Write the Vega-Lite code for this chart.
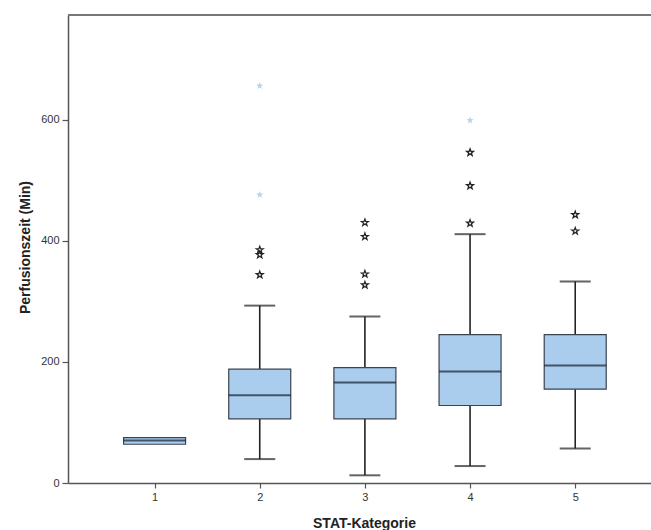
{
  "$schema": "https://vega.github.io/schema/vega-lite/v6.json",
  "width": 583,
  "height": 468,
  "autosize": {"type": "none"},
  "padding": {"left": 68, "top": 15, "right": 0, "bottom": 47},
  "background": "white",
  "config": {"view": {"stroke": null}, "font": "Liberation Sans"},
  "datasets": {
    "boxes": [
      {"cat": 1, "lo": 64, "q1": 64, "med": 70, "q3": 75, "hi": 75},
      {"cat": 2, "lo": 39.5, "q1": 106, "med": 145, "q3": 188, "hi": 293},
      {"cat": 3, "lo": 12.7, "q1": 106, "med": 166, "q3": 190.6, "hi": 275},
      {"cat": 4, "lo": 28, "q1": 128, "med": 184, "q3": 245, "hi": 411},
      {"cat": 5, "lo": 57, "q1": 155, "med": 194, "q3": 245, "hi": 333}
    ],
    "outl": [
      {"cat": 2, "value": 385},
      {"cat": 2, "value": 377},
      {"cat": 2, "value": 344},
      {"cat": 3, "value": 430},
      {"cat": 3, "value": 407},
      {"cat": 3, "value": 345},
      {"cat": 3, "value": 327},
      {"cat": 4, "value": 546},
      {"cat": 4, "value": 491},
      {"cat": 4, "value": 429},
      {"cat": 5, "value": 443},
      {"cat": 5, "value": 416}
    ],
    "extr": [
      {"cat": 2, "value": 656},
      {"cat": 2, "value": 476},
      {"cat": 4, "value": 599}
    ]
  },
  "layer": [
    {
      "data": {"name": "boxes"},
      "mark": {"type": "rule", "color": "#222222", "strokeWidth": 1.6},
      "encoding": {
        "x": {
          "field": "cat",
          "type": "quantitative",
          "scale": {"domain": [0.2243, 5.673], "nice": false, "zero": false},
          "axis": {
            "orient": "bottom",
            "values": [1, 2, 3, 4, 5],
            "format": "d",
            "grid": false,
            "domainColor": "#555555",
            "domainWidth": 1.5,
            "tickColor": "#555555",
            "tickSize": 5,
            "tickWidth": 1.2,
            "labelFontSize": 11,
            "labelColor": "#333333",
            "labelPadding": 3,
            "title": "STAT-Kategorie",
            "titleFontSize": 14,
            "titleFontWeight": "bold",
            "titleColor": "#222222",
            "titleX": 296,
            "titleY": 40,
            "titleBaseline": "middle",
            "titleAlign": "center"
          }
        },
        "y": {
          "field": "lo",
          "type": "quantitative",
          "scale": {"domain": [0, 773], "nice": false, "zero": true},
          "axis": {
            "orient": "left",
            "values": [0, 200, 400, 600],
            "grid": false,
            "domainColor": "#555555",
            "domainWidth": 1.5,
            "tickColor": "#555555",
            "tickSize": 6,
            "tickWidth": 1.2,
            "labelFontSize": 11,
            "labelColor": "#333333",
            "labelPadding": 3,
            "title": "Perfusionszeit (Min)",
            "titleFontSize": 14,
            "titleFontWeight": "bold",
            "titleColor": "#222222",
            "titleX": -43,
            "titleY": 232,
            "titleAngle": -90,
            "titleAlign": "center",
            "titleBaseline": "middle"
          }
        },
        "y2": {"field": "q1"}
      }
    },
    {
      "data": {"name": "boxes"},
      "mark": {"type": "rule", "color": "#777777", "strokeWidth": 1.5},
      "encoding": {"y": {"datum": 773, "type": "quantitative"}}
    },
    {
      "data": {"name": "boxes"},
      "mark": {"type": "rule", "color": "#222222", "strokeWidth": 1.6},
      "encoding": {"x": {"field": "cat", "type": "quantitative"}, "y": {"field": "q3", "type": "quantitative"}, "y2": {"field": "hi"}}
    },
    {
      "data": {"name": "boxes"},
      "transform": [{"filter": "datum.cat > 1"}],
      "mark": {"type": "tick", "orient": "horizontal", "color": "#222222", "size": 31, "thickness": 2},
      "encoding": {"x": {"field": "cat", "type": "quantitative"}, "y": {"field": "lo", "type": "quantitative"}}
    },
    {
      "data": {"name": "boxes"},
      "transform": [{"filter": "datum.cat > 1"}],
      "mark": {"type": "tick", "orient": "horizontal", "color": "#222222", "size": 31, "thickness": 2},
      "encoding": {"x": {"field": "cat", "type": "quantitative"}, "y": {"field": "hi", "type": "quantitative"}}
    },
    {
      "data": {"name": "boxes"},
      "mark": {"type": "bar", "size": 62, "fill": "#aacdee", "stroke": "#3a4350", "strokeWidth": 1.2},
      "encoding": {"x": {"field": "cat", "type": "quantitative"}, "y": {"field": "q1", "type": "quantitative"}, "y2": {"field": "q3"}}
    },
    {
      "data": {"name": "boxes"},
      "mark": {"type": "tick", "orient": "horizontal", "color": "#16212e", "size": 62, "thickness": 2},
      "encoding": {"x": {"field": "cat", "type": "quantitative"}, "y": {"field": "med", "type": "quantitative"}}
    },
    {
      "data": {"name": "outl"},
      "mark": {"type": "point", "shape": "M0,-1L0.235,-0.324L0.951,-0.309L0.38,0.124L0.588,0.809L0,0.4L-0.588,0.809L-0.38,0.124L-0.951,-0.309L-0.235,-0.324Z", "filled": false, "color": "#222222", "strokeWidth": 1.25, "size": 52, "opacity": 1},
      "encoding": {"x": {"field": "cat", "type": "quantitative"}, "y": {"field": "value", "type": "quantitative"}}
    },
    {
      "data": {"name": "extr"},
      "mark": {"type": "point", "shape": "M0,-1L0.235,-0.324L0.951,-0.309L0.38,0.124L0.588,0.809L0,0.4L-0.588,0.809L-0.38,0.124L-0.951,-0.309L-0.235,-0.324Z", "filled": true, "color": "#b9d3ee", "size": 60, "opacity": 1},
      "encoding": {"x": {"field": "cat", "type": "quantitative"}, "y": {"field": "value", "type": "quantitative"}}
    }
  ]
}
